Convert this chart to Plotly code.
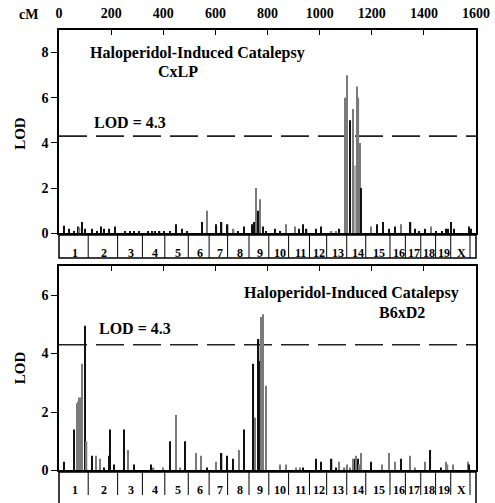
import plotly.graph_objects as go

# ---------------- data ----------------
top_cm = [20, 38, 59, 72, 79, 89, 100, 128, 146, 161,
          174, 193, 215, 253, 272, 289, 307, 343, 356, 368,
          386, 404, 427, 448, 471, 490, 548, 568, 604, 624,
          647, 670, 688, 711, 741, 747, 756, 765, 771, 782,
          794, 830, 848, 871, 907, 920, 937, 950, 986, 1006,
          1046, 1063, 1076, 1097, 1105, 1118, 1128, 1136, 1144, 1149,
          1154, 1159, 1196, 1219, 1242, 1267, 1290, 1311, 1349, 1365,
          1381, 1405, 1426, 1447, 1470, 1485, 1493, 1505, 1516, 1572,
          1580]
top_lod = [0.33, 0.2, 0.1, 0.3, 0.25, 0.5, 0.2, 0.2, 0.1, 0.3,
           0.2, 0.2, 0.3, 0.1, 0.1, 0.1, 0.1, 0.1, 0.1, 0.1,
           0.1, 0.1, 0.1, 0.4, 0.2, 0.1, 0.5, 1.0, 0.4, 0.5,
           0.4, 0.2, 0.1, 0.3, 0.4, 0.5, 2.0, 1.0, 1.5, 0.3,
           0.1, 0.2, 0.1, 0.4, 0.3, 0.2, 0.4, 0.2, 0.2, 0.3,
           0.1, 0.1, 0.2, 6.0, 7.0, 5.0, 5.5, 3.0, 6.5, 6.0,
           4.0, 2.0, 0.3, 0.4, 0.5, 0.2, 0.3, 0.4, 0.5, 0.2,
           0.1, 0.2, 0.3, 0.1, 0.1, 0.2, 0.2, 0.5, 0.2, 0.3,
           0.2]
top_shade = list("kkkkgkkkkk" "kkkkkkkkkk" "kkkkkkkgkk" "kgkkkkgkgk" "kkkggkkkkk"
                 "ggkggkglgg" "gkgkkkkgkk" "kkgkkkkkkk" "k")

bot_cm = [20, 59, 70, 75, 79, 84, 88, 100, 106, 128,
          143, 158, 174, 191, 195, 212, 249, 266, 289, 354,
          363, 400, 426, 448, 465, 483, 525, 544, 567, 602,
          624, 646, 669, 691, 710, 746, 753, 766, 771, 775,
          782, 794, 849, 871, 909, 925, 937, 986, 1006, 1046,
          1063, 1074, 1096, 1104, 1117, 1127, 1135, 1141, 1146, 1152,
          1158, 1196, 1239, 1265, 1289, 1311, 1347, 1367, 1404, 1425,
          1467, 1485, 1491, 1511, 1568, 1574]
bot_lod = [0.3, 1.4, 2.3, 2.35, 2.5, 2.5, 3.65, 4.95, 1.0, 0.5,
           0.5, 0.4, 0.1, 0.5, 1.4, 0.2, 1.4, 0.7, 0.2, 0.2,
           0.1, 0.1, 1.0, 1.9, 0.1, 1.0, 0.6, 0.5, 0.1, 0.3,
           0.6, 0.5, 0.4, 0.7, 1.4, 3.65, 1.8, 4.5, 3.75, 5.25,
           5.35, 2.9, 0.2, 0.2, 0.1, 0.1, 0.1, 0.4, 0.3, 0.4,
           0.1, 0.3, 0.1, 0.2, 0.1, 0.4, 0.4, 0.5, 0.4, 0.2,
           0.6, 0.3, 0.2, 0.6, 0.3, 0.4, 0.5, 0.1, 0.3, 0.7,
           0.1, 0.3, 0.2, 0.2, 0.3, 0.2]
bot_shade = list("kkgggggkgk" "ggkkkkkgkk" "ggkggkggkg" "kkkgkkgkkg" "ggggggkkkk"
                 "kgggggkgkg" "gkgggkgggk" "kggggk")

chrom_edges = [0, 112, 225, 320, 406, 496, 576, 647, 729, 805, 881, 961, 1027,
               1104, 1177, 1270, 1329, 1388, 1445, 1503, 1577, 1600]
chrom_labels = ["1", "2", "3", "4", "5", "6", "7", "8", "9", "10", "11", "12",
                "13", "14", "15", "16", "17", "18", "19", "X"]
cm_ticks = [0, 200, 400, 600, 800, 1000, 1200, 1400, 1600]
threshold = 4.3

# ---------------- styling ----------------
FONT = "Liberation Serif"
shade_color = {"k": "#111111", "g": "#7a7a7a", "l": "#b5b5b5"}
BAR_W = 5

fig = go.Figure()
fig.add_trace(go.Bar(x=top_cm, y=top_lod, width=BAR_W,
                     marker=dict(color=[shade_color[s] for s in top_shade], line=dict(width=0)),
                     xaxis="x", yaxis="y", showlegend=False))
fig.add_trace(go.Bar(x=bot_cm, y=bot_lod, width=BAR_W,
                     marker=dict(color=[shade_color[s] for s in bot_shade], line=dict(width=0)),
                     xaxis="x2", yaxis="y2", showlegend=False))

H = 503.0
T = 30.0
PH = H - T  # plot area height (b=0)


def dom(y_top_px, y_bot_px):
    return [(H - y_bot_px) / PH, (H - y_top_px) / PH]


tickfont = dict(family=FONT, size=14, color="black", weight="bold")
common_x = dict(range=[0, 1600], showgrid=False, zeroline=False, showline=True,
                linecolor="black", linewidth=1.5, mirror=True, side="top",
                ticks="inside", tickvals=cm_ticks, ticklen=5, tickcolor="black",
                tickfont=tickfont)
common_y = dict(showgrid=False, zeroline=False, showline=True, linecolor="black",
                linewidth=1.5, mirror=True, ticks="outside", ticklen=6,
                tickcolor="black", tickfont=tickfont)

band_ax = dict(range=[0, 1600], visible=False, fixedrange=True)
band_ay = dict(range=[0, 1], visible=False, fixedrange=True)

fig.update_layout(
    width=495, height=503,
    margin=dict(l=59, r=19, t=T, b=0),
    paper_bgcolor="white", plot_bgcolor="white",
    barmode="overlay",
    xaxis=dict(common_x, anchor="y", domain=[0, 1], showticklabels=True,
               ticklabelstandoff=5),
    yaxis=dict(common_y, anchor="x", domain=dom(30, 236.7), range=[0, 9],
               tickvals=[0, 2, 4, 6, 8]),
    xaxis2=dict(common_x, anchor="y2", domain=[0, 1], showticklabels=False),
    yaxis2=dict(common_y, anchor="x2", domain=dom(270, 478), range=[0, 7],
                tickvals=[0, 2, 4, 6]),
    xaxis3=dict(band_ax, anchor="y3", domain=[0, 1]),
    yaxis3=dict(band_ay, anchor="x3", domain=dom(238.5, 262)),
    xaxis4=dict(band_ax, anchor="y4", domain=[0, 1]),
    yaxis4=dict(band_ay, anchor="x4", domain=dom(479.5, 503)),
)

shapes = []
# threshold dashed lines
for xr, yr in (("x", "y"), ("x2", "y2")):
    shapes.append(dict(type="line", xref=xr, yref=yr, x0=0, x1=1600,
                       y0=threshold, y1=threshold, layer="below",
                       line=dict(color="#222222", width=1.6, dash="28px,9px")))
# chromosome bands
for xr, yr, y0 in (("x3", "y3", 0), ("x4", "y4", -0.5)):
    shapes.append(dict(type="rect", xref=xr + " domain", yref=yr + " domain",
                       x0=0, x1=1, y0=y0, y1=1,
                       line=dict(color="black", width=1.5)))
    for e in chrom_edges[1:-1]:
        shapes.append(dict(type="line", xref=xr, yref=yr, x0=e, x1=e, y0=0, y1=1,
                           line=dict(color="black", width=1)))
fig.update_layout(shapes=shapes)

ann = []
lblfont = dict(family=FONT, size=12, color="black", weight="bold")
for xr, yr, ly in (("x3", "y3", 0.2), ("x4", "y4", 0.22)):
    for i, lab in enumerate(chrom_labels):
        mid = (chrom_edges[i] + chrom_edges[i + 1]) / 2 + 5
        ann.append(dict(x=mid, y=ly, xref=xr, yref=yr, text=lab, showarrow=False,
                        font=lblfont, xanchor="center", yanchor="middle"))

tfont = dict(family=FONT, size=16, color="black", weight="bold")
ann += [
    dict(x=530, y=8.0, xref="x", yref="y", text="Haloperidol-Induced Catalepsy",
         showarrow=False, font=tfont, xanchor="center", yanchor="middle"),
    dict(x=457, y=7.17, xref="x", yref="y", text="CxLP",
         showarrow=False, font=tfont, xanchor="center", yanchor="middle"),
    dict(x=271, y=4.9, xref="x", yref="y", text="LOD = 4.3",
         showarrow=False, font=tfont, xanchor="center", yanchor="middle"),
    dict(x=1124, y=6.08, xref="x2", yref="y2", text="Haloperidol-Induced Catalepsy",
         showarrow=False, font=tfont, xanchor="center", yanchor="middle"),
    dict(x=1316, y=5.4, xref="x2", yref="y2", text="B6xD2",
         showarrow=False, font=tfont, xanchor="center", yanchor="middle"),
    dict(x=290, y=4.86, xref="x2", yref="y2", text="LOD = 4.3",
         showarrow=False, font=tfont, xanchor="center", yanchor="middle"),
    dict(x=(20 - 59) / 417, y=4.4, xref="paper", yref="y", text="LOD",
         textangle=-90, showarrow=False, font=dict(family=FONT, size=15, color="black", weight="bold"),
         xanchor="center", yanchor="middle"),
    dict(x=(20 - 59) / 417, y=3.5, xref="paper", yref="y2", text="LOD",
         textangle=-90, showarrow=False, font=dict(family=FONT, size=15, color="black", weight="bold"),
         xanchor="center", yanchor="middle"),
    dict(x=(28 - 59) / 417, y=(H - 14) / PH, xref="paper", yref="paper", text="cM",
         showarrow=False, font=tickfont, xanchor="center", yanchor="middle"),
]
fig.update_layout(annotations=ann)

fig.write_html("out.html")
